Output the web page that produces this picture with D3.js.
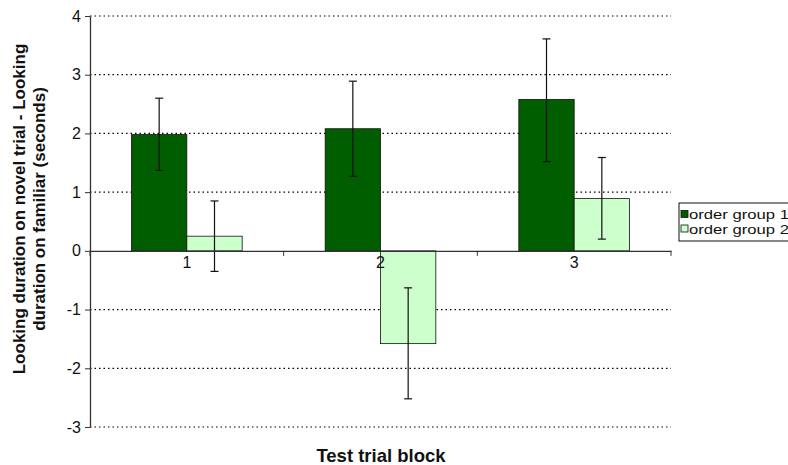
<!DOCTYPE html>
<html>
<head>
<meta charset="utf-8">
<script src="https://cdn.jsdelivr.net/npm/d3@7"></script>
<style>
  body { margin: 0; background: #fff; }
  svg { font-family: "Liberation Sans", Arial, sans-serif; }
</style>
</head>
<body>
<svg id="chart" width="788" height="465"></svg>
<script>
// data
var blocks = ["1", "2", "3"];
var groups = ["order group 1", "order group 2"];
var group1Means = [1.98, 2.08, 2.58];
var group2Means = [0.25, -1.58, 0.89];
var group1ErrLow = [1.37, 1.27, 1.52];
var group1ErrHigh = [2.60, 2.89, 3.61];
var group2ErrLow = [-0.35, -2.52, 0.20];
var group2ErrHigh = [0.85, -0.63, 1.59];
var yTicks = [-3, -2, -1, 0, 1, 2, 3, 4];
var colors = ["#005e00", "#ccffcc"];

/* ===================================
 *  SETUP
 * =================================== */
var svg = d3.select("#chart");
var plotLeft = 90, plotRight = 671, plotTop = 16, plotBottom = 427;

var x = d3.scaleBand().domain(blocks).range([plotLeft, plotRight]);
var inner = d3.scaleBand().domain(groups).range([0, x.bandwidth()]).paddingInner(0).paddingOuter(0.75);
var y = d3.scaleLinear().domain([-3, 4]).range([plotBottom, plotTop]);

var rows = [];
blocks.forEach(function (b, i) {
  rows.push({ block: b, group: groups[0], v: group1Means[i], lo: group1ErrLow[i], hi: group1ErrHigh[i], c: colors[0] });
  rows.push({ block: b, group: groups[1], v: group2Means[i], lo: group2ErrLow[i], hi: group2ErrHigh[i], c: colors[1] });
});

/* ===================================
 *  GRID + AXES
 * =================================== */
svg.append("g")
  .selectAll("line")
  .data(yTicks.filter(function (t) { return t !== 0; }))
  .join("line")
  .attr("x1", plotLeft).attr("x2", plotRight)
  .attr("y1", function (d) { return y(d); }).attr("y2", function (d) { return y(d); })
  .attr("stroke", "#000").attr("stroke-width", 1.2)
  .attr("stroke-dasharray", "1.5,3");

var yAxis = svg.append("g")
  .attr("transform", "translate(" + plotLeft + ",0)")
  .call(d3.axisLeft(y).tickValues(yTicks).tickSize(5).tickSizeOuter(0).tickFormat(d3.format("d")));
yAxis.select(".domain").attr("stroke", "#333").attr("stroke-width", 1.3);
yAxis.selectAll(".tick line").attr("stroke", "#333");
yAxis.selectAll("text").attr("font-size", 16).attr("fill", "#111").attr("x", -9)
  .text(function (d) { return d < 0 ? "-" + Math.abs(d) : d; });

/* ===================================
 *  BARS + ERRORS
 * =================================== */
svg.append("g")
  .selectAll("rect")
  .data(rows)
  .join("rect")
  .attr("x", function (d) { return x(d.block) + inner(d.group); })
  .attr("width", inner.bandwidth())
  .attr("y", function (d) { return y(Math.max(0, d.v)); })
  .attr("height", function (d) { return Math.abs(y(d.v) - y(0)); })
  .attr("fill", function (d) { return d.c; })
  .attr("stroke", "#111").attr("stroke-width", 0.8);

var err = svg.append("g").attr("stroke", "#111").attr("stroke-width", 1.2);
rows.forEach(function (d) {
  var cx = x(d.block) + inner(d.group) + inner.bandwidth() / 2;
  err.append("line").attr("x1", cx).attr("x2", cx).attr("y1", y(d.lo)).attr("y2", y(d.hi));
  err.append("line").attr("x1", cx - 4).attr("x2", cx + 4).attr("y1", y(d.lo)).attr("y2", y(d.lo));
  err.append("line").attr("x1", cx - 4).attr("x2", cx + 4).attr("y1", y(d.hi)).attr("y2", y(d.hi));
});

// zero line with category ticks
var xAxis = svg.append("g")
  .attr("transform", "translate(0," + y(0) + ")")
  .call(d3.axisBottom(x).tickSize(0).tickPadding(6));
xAxis.select(".domain").attr("stroke", "#333").attr("stroke-width", 1.3);
xAxis.selectAll("text").attr("font-size", 16).attr("fill", "#111");
svg.append("g")
  .selectAll("line")
  .data(blocks.concat(["end"]))
  .join("line")
  .attr("x1", function (d, i) { return plotLeft + i * x.bandwidth(); })
  .attr("x2", function (d, i) { return plotLeft + i * x.bandwidth(); })
  .attr("y1", y(0)).attr("y2", y(0) + 5)
  .attr("stroke", "#333");

/* ===================================
 *  TITLES + LEGEND
 * =================================== */
svg.append("text")
  .attr("x", 381).attr("y", 462)
  .attr("text-anchor", "middle")
  .attr("font-size", 18.5).attr("font-weight", "bold").attr("fill", "#111")
  .text("Test trial block");

var yTitle = svg.append("text")
  .attr("transform", "translate(25,209) rotate(-90)")
  .attr("text-anchor", "middle")
  .attr("font-size", 17).attr("font-weight", "bold").attr("fill", "#111");
yTitle.append("tspan").attr("x", 0).attr("dy", 0).text("Looking duration on novel trial - Looking");
yTitle.append("tspan").attr("x", 0).attr("dy", 20).text("duration on familiar (seconds)");

var legend = svg.append("g").attr("transform", "translate(679,203)");
legend.append("rect")
  .attr("width", 120).attr("height", 38)
  .attr("fill", "#fff").attr("stroke", "#111").attr("stroke-width", 1);
legend.selectAll("g.item")
  .data(groups)
  .join("g")
  .attr("class", "item")
  .attr("transform", function (d, i) { return "translate(2," + (11.5 + i * 14.5) + ")"; })
  .each(function (d, i) {
    var g = d3.select(this);
    g.append("rect").attr("x", 0).attr("y", -4).attr("width", 7).attr("height", 7)
      .attr("fill", colors[i]).attr("stroke", "#111").attr("stroke-width", 0.8);
    g.append("text").attr("x", 8).attr("y", 4.5)
      .attr("font-size", 12.5).attr("fill", "#111")
      .attr("textLength", 100).attr("lengthAdjust", "spacingAndGlyphs")
      .text(d);
  });
</script>
</body>
</html>
